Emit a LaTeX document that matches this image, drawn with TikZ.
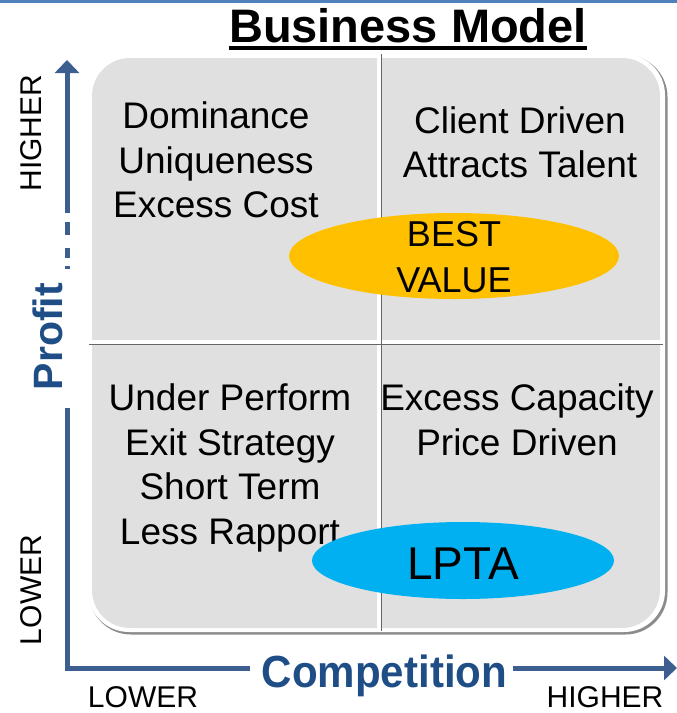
\documentclass[tikz,border=0pt]{standalone}
\usepackage{fontspec}
\setmainfont{Liberation Sans}
\usetikzlibrary{arrows.meta,shapes.geometric}
\definecolor{axisblue}{HTML}{3C5F8F}
\definecolor{txtblue}{HTML}{1F4E87}
\definecolor{topblue}{HTML}{4F81BD}
\definecolor{quadgray}{HTML}{E0E0E0}
\definecolor{gold}{HTML}{FFC000}
\definecolor{cyanfill}{HTML}{00B0F0}
\tikzset{
  quadtext/.style={align=center, inner sep=0pt, anchor=north, font=\fontsize{37}{44.5}\selectfont},
  axislabel/.style={inner sep=0pt, font=\fontsize{30}{36}\selectfont},
  axisline/.style={draw=axisblue, line width=5pt},
  tipstyle/.style={-{Triangle[length=13pt,width=24pt]}},
  oval/.style={ellipse, inner sep=0pt, draw=none}
}
\begin{document}
\begin{tikzpicture}[x=1pt,y=-1pt]
\useasboundingbox (0,0) rectangle (677,713);
\fill[topblue] (0,0) rectangle (677,2.5);

% panel
\fill[black!45, rounded corners=42] (89,55) rectangle (667.5,634.5);
\fill[white, rounded corners=41] (88,54) rectangle (665,632);
\fill[quadgray, rounded corners=38] (92,58) rectangle (660,628);
\fill[white] (377,55) rectangle (381,631);
\fill[white] (90,340) rectangle (662,344);
\draw[black!60, line width=1.3pt] (381.6,54) -- (381.6,631);
\draw[black!60, line width=1.3pt] (89,344.6) -- (663,344.6);

% title
\node[inner sep=0pt, anchor=base, font=\fontsize{47}{56}\selectfont\bfseries] (title) at (408,42) {Business Model};
\draw[line width=3.5pt] ([yshift=-6pt]title.base west) -- ([yshift=-6pt]title.base east);

% quadrant texts
\node[quadtext] (tl) at (216,101.5) {Dominance\\Uniqueness\\Excess Cost};
\node[quadtext] (tr) at (520,106) {Client Driven\\Attracts Talent};
\node[quadtext] (bl) at (230,383.5) {Under Perform\\Exit Strategy\\Short Term\\Less Rapport};
\node[quadtext] (br) at (517,383.5) {Excess Capacity\\Price Driven};

% ovals
\node[oval, fill=gold, minimum width=330pt, minimum height=86pt] (best) at (454,256) {};
\node[align=center, inner sep=0pt, anchor=north, font=\fontsize{36}{46}\selectfont] (besttext) at (454,221) {BEST\\VALUE};
\node[oval, fill=cyanfill, minimum width=302pt, minimum height=77pt] (lpta) at (463,560.5) {};
\node[inner sep=0pt, anchor=base, font=\fontsize{46}{54}\selectfont] (lptatext) at (463,579) {LPTA};

% axes
\coordinate (origin) at (67,668);
\coordinate (ytop) at (67,60);
\coordinate (ysolid) at (67,213);
\coordinate (ydashstart) at (67,222);
\coordinate (ydash) at (67,269);
\coordinate (ygap) at (67,408);
\coordinate (xgap) at (250,668);
\coordinate (xresume) at (513,668);
\coordinate (xend) at (677,668);
\draw[axisline, line join=miter] (ygap) -- (origin) -- (xgap);
\draw[axisline, tipstyle] (xresume) -- (xend);
\draw[axisline, tipstyle] (ysolid) -- (ytop);
\draw[axisline, dash pattern=on 13pt off 13pt on 10pt off 8pt on 3pt off 20pt] (ydashstart) -- (ydash);

\node[inner sep=0pt, rotate=90, font=\fontsize{41}{48}\selectfont\bfseries, text=txtblue] (profit) at (47.5,336.5) {Profit};
\node[inner sep=0pt, anchor=base, font=\fontsize{45}{54}\selectfont\bfseries, text=txtblue] (competition) at (384.5,687) {\scalebox{0.935}[1]{Competition}};

\node[axislabel, rotate=90] (yhigh) at (31.5,133) {HIGHER};
\node[axislabel, rotate=90] (ylow) at (31.5,590) {LOWER};
\node[axislabel] (xlow) at (143,697) {LOWER};
\node[axislabel] (xhigh) at (605,697) {HIGHER};
\end{tikzpicture}
\end{document}
